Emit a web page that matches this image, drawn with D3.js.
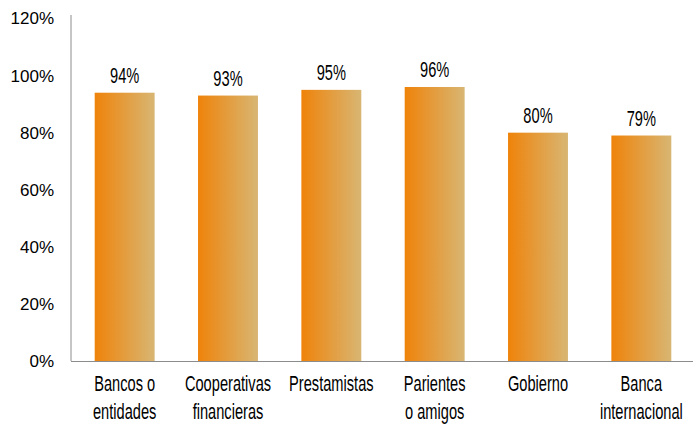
<!DOCTYPE html>
<html><head><meta charset="utf-8">
<script src="https://cdn.jsdelivr.net/npm/d3@7"></script>
<style>body{margin:0;background:#fff}svg{display:block}</style>
</head><body><svg id="c" width="693" height="425"></svg>
<script>
const categories = [["Bancos o","entidades"],["Cooperativas","financieras"],["Prestamistas"],["Parientes","o amigos"],["Gobierno"],["Banca","internacional"]];
const values = [0.94, 0.93, 0.95, 0.96, 0.80, 0.79];
const valueLabels = ["94%","93%","95%","96%","80%","79%"];
const yTicks = [0, 0.2, 0.4, 0.6, 0.8, 1.0, 1.2];

const svg = d3.select("#c");
const x = d3.scaleBand().domain(d3.range(categories.length)).range([73, 693]).paddingInner(0.42).paddingOuter(0.21);
const y = d3.scaleLinear().domain([0, 1.2]).range([361, 18.5]);

const defs = svg.append("defs");
const g = defs.append("linearGradient").attr("id","gr").attr("x1","0").attr("x2","1").attr("y1","0").attr("y2","0");
g.append("stop").attr("offset","0").attr("stop-color","#EF830A");
g.append("stop").attr("offset","1").attr("stop-color","#D8B673");

const font = "'Liberation Sans',Arial,sans-serif";
const sx = 0.65;

// y axis
const ya = svg.append("g").attr("transform","translate(71,0)")
  .call(d3.axisLeft(y).tickValues(yTicks).tickFormat(d3.format(".0%")).tickSize(0).tickPadding(17));
ya.select(".domain").attr("stroke","#8c8c8c").attr("d","M0,15V361");
ya.selectAll("text").attr("font-family",font).attr("font-size","17px").attr("fill","#000");

// x axis line
svg.append("line").attr("x1",71).attr("x2",693).attr("y1",361.5).attr("y2",361.5).attr("stroke","#8c8c8c");

svg.selectAll("rect.bar").data(values).join("rect").attr("class","bar")
  .attr("x",(d,i)=>x(i)).attr("width",x.bandwidth())
  .attr("y",d=>y(d)).attr("height",d=>361-y(d)).attr("fill","url(#gr)");

svg.selectAll("text.val").data(values).join("text").attr("class","val")
  .attr("transform",(d,i)=>`translate(${x(i)+x.bandwidth()/2},${y(d)-10}) scale(${sx},1)`)
  .attr("text-anchor","middle").attr("font-family",font).attr("font-size","22.5px").attr("fill","#000")
  .text((d,i)=>valueLabels[i]);

const cl = svg.selectAll("text.cat").data(categories).join("text").attr("class","cat")
  .attr("transform",(d,i)=>`translate(${x(i)+x.bandwidth()/2},391) scale(${sx},1)`)
  .attr("text-anchor","middle").attr("font-family",font).attr("font-size","22.5px").attr("fill","#000");
cl.each(function(d){
  const t=d3.select(this);
  d.forEach((s,k)=>t.append("tspan").attr("x",0).attr("dy",k?28:0).text(s));
});
</script></body></html>
